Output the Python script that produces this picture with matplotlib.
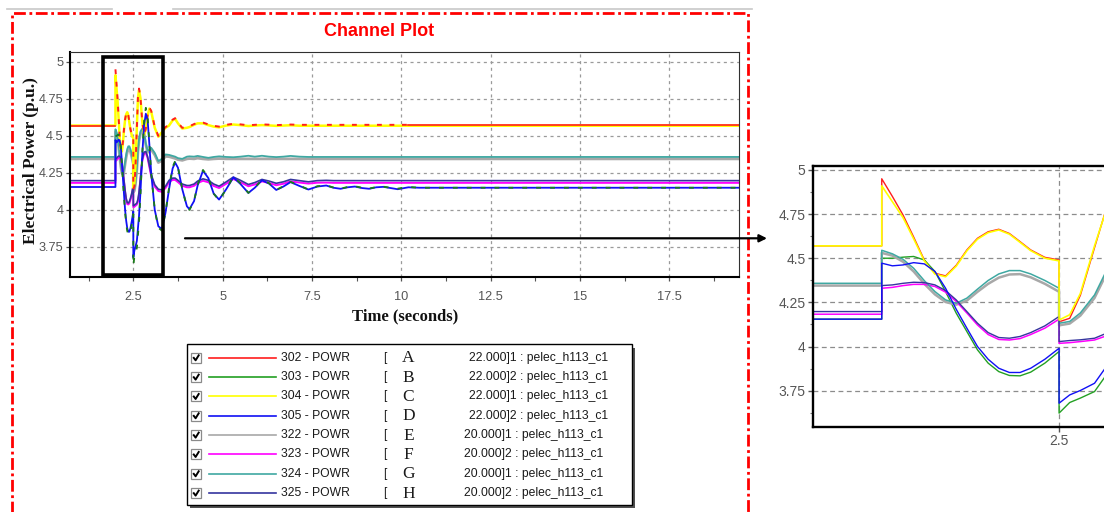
import matplotlib
matplotlib.use("Agg")
import matplotlib.pyplot as plt
from matplotlib.patches import Rectangle
from matplotlib.ticker import MultipleLocator, FixedLocator

plt.rcParams['lines.scale_dashes'] = False

# ---------------------------------------------------------------- data
# simulation time (s); repeated instants mark the fault (2.0 s) and clearing (2.5 s)
time_s = ([0.70, 2.00] +
          [2.00, 2.03, 2.06, 2.09, 2.12, 2.15, 2.18, 2.21, 2.24, 2.27, 2.30, 2.33, 2.36, 2.39, 2.42, 2.46, 2.50] +
          [2.50, 2.53, 2.56, 2.60, 2.63, 2.66, 2.70, 2.75, 2.80, 2.85, 2.90, 2.95, 3.00] +
          [3.10, 3.20, 3.30, 3.40, 3.50, 3.60, 3.67, 3.75, 3.87, 4.00, 4.07, 4.20, 4.30, 4.45, 4.60, 4.75, 4.90] +
          [5.10, 5.30, 5.50, 5.72, 5.90, 6.10, 6.30, 6.50, 6.70, 6.90, 7.15, 7.40, 7.65, 7.90] +
          [8.10, 8.30, 8.50, 8.70, 8.90, 9.10, 9.30, 9.50, 9.70, 9.90, 10.20, 10.50, 11.00, 19.50])

# electrical power (p.u.) per channel
pelec_302 = ([4.570, 4.570] +
             [4.950, 4.850, 4.745, 4.620, 4.490, 4.415, 4.400, 4.460, 4.547, 4.613, 4.650, 4.664, 4.640, 4.594, 4.547, 4.505, 4.490] +
             [4.140, 4.160, 4.290, 4.560, 4.760, 4.820, 4.760, 4.600, 4.510, 4.550, 4.640, 4.690, 4.670] +
             [4.560, 4.500, 4.530, 4.560, 4.575, 4.610, 4.620, 4.590, 4.555, 4.560, 4.565, 4.580, 4.590, 4.590, 4.578, 4.568, 4.563] +
             [4.575, 4.582, 4.578, 4.572, 4.575, 4.578, 4.576, 4.573, 4.575, 4.577, 4.575, 4.575, 4.575, 4.575] +
             [4.575] * 14)

pelec_303 = ([4.155, 4.155] +
             [4.500, 4.500, 4.506, 4.510, 4.490, 4.425, 4.311, 4.189, 4.085, 3.981, 3.906, 3.858, 3.836, 3.834, 3.855, 3.906, 3.972] +
             [3.623, 3.683, 3.708, 3.745, 3.830, 3.920, 4.100, 4.380, 4.600, 4.690, 4.630, 4.450, 4.250] +
             [4.000, 3.880, 3.860, 3.980, 4.150, 4.290, 4.330, 4.290, 4.140, 4.020, 4.000, 4.060, 4.170, 4.270, 4.220, 4.110, 4.065] +
             [4.140, 4.225, 4.180, 4.115, 4.150, 4.205, 4.180, 4.135, 4.160, 4.190, 4.165, 4.138, 4.160, 4.166] +
             [4.152, 4.144, 4.155, 4.160, 4.150, 4.144, 4.155, 4.157, 4.150, 4.144, 4.155, 4.150, 4.150, 4.150])

pelec_304 = ([4.570, 4.570] +
             [4.910, 4.820, 4.730, 4.610, 4.485, 4.410, 4.395, 4.455, 4.542, 4.608, 4.645, 4.660, 4.636, 4.590, 4.543, 4.500, 4.485] +
             [4.150, 4.180, 4.300, 4.570, 4.755, 4.810, 4.755, 4.595, 4.505, 4.545, 4.635, 4.685, 4.665] +
             [4.555, 4.495, 4.525, 4.555, 4.570, 4.605, 4.615, 4.585, 4.550, 4.555, 4.560, 4.575, 4.585, 4.585, 4.573, 4.563, 4.558] +
             [4.570, 4.577, 4.573, 4.567, 4.570, 4.573, 4.571, 4.568, 4.570, 4.572, 4.569, 4.569, 4.569, 4.569] +
             [4.569] * 14)

pelec_305 = ([4.155, 4.155] +
             [4.472, 4.457, 4.462, 4.475, 4.468, 4.425, 4.330, 4.211, 4.104, 4.000, 3.928, 3.877, 3.853, 3.853, 3.877, 3.928, 3.990] +
             [3.679, 3.726, 3.751, 3.792, 3.877, 3.960, 4.120, 4.370, 4.570, 4.650, 4.610, 4.440, 4.250] +
             [4.000, 3.890, 3.870, 3.980, 4.140, 4.280, 4.320, 4.285, 4.140, 4.025, 4.005, 4.060, 4.165, 4.265, 4.215, 4.110, 4.070] +
             [4.140, 4.220, 4.175, 4.115, 4.150, 4.200, 4.178, 4.135, 4.158, 4.188, 4.162, 4.138, 4.158, 4.165] +
             [4.150, 4.143, 4.153, 4.158, 4.148, 4.143, 4.153, 4.156, 4.148, 4.140, 4.153, 4.150, 4.150, 4.150])

pelec_322 = ([4.345, 4.345] +
             [4.530, 4.515, 4.480, 4.425, 4.355, 4.295, 4.252, 4.237, 4.260, 4.310, 4.355, 4.390, 4.408, 4.410, 4.392, 4.355, 4.310] +
             [4.120, 4.130, 4.175, 4.275, 4.398, 4.465, 4.515, 4.538, 4.508, 4.440, 4.390, 4.393, 4.408] +
             [4.372, 4.320, 4.333, 4.362, 4.360, 4.353, 4.348, 4.340, 4.335, 4.345, 4.347, 4.345, 4.350, 4.345, 4.342, 4.345, 4.347] +
             [4.345] * 14 +
             [4.345] * 14)

pelec_323 = ([4.183, 4.183] +
             [4.330, 4.335, 4.345, 4.352, 4.352, 4.340, 4.308, 4.255, 4.190, 4.122, 4.068, 4.040, 4.037, 4.045, 4.068, 4.104, 4.155] +
             [4.018, 4.022, 4.028, 4.037, 4.058, 4.105, 4.205, 4.328, 4.380, 4.385, 4.350, 4.290, 4.228] +
             [4.158, 4.128, 4.122, 4.148, 4.188, 4.203, 4.203, 4.188, 4.163, 4.153, 4.153, 4.163, 4.182, 4.197, 4.187, 4.162, 4.148] +
             [4.177, 4.209, 4.187, 4.160, 4.172, 4.193, 4.182, 4.167, 4.177, 4.193, 4.185, 4.178, 4.184, 4.185] +
             [4.183] * 14)

pelec_324 = ([4.358, 4.358] +
             [4.545, 4.525, 4.494, 4.443, 4.373, 4.311, 4.264, 4.245, 4.274, 4.325, 4.374, 4.411, 4.430, 4.430, 4.411, 4.374, 4.330] +
             [4.132, 4.142, 4.190, 4.292, 4.415, 4.480, 4.530, 4.550, 4.520, 4.450, 4.400, 4.405, 4.420] +
             [4.385, 4.330, 4.345, 4.375, 4.372, 4.365, 4.360, 4.350, 4.345, 4.360, 4.362, 4.360, 4.365, 4.358, 4.352, 4.358, 4.362] +
             [4.358, 4.356, 4.360, 4.366, 4.360, 4.366, 4.360, 4.357, 4.360, 4.365, 4.360, 4.358, 4.358, 4.358] +
             [4.358] * 14)

pelec_325 = ([4.198, 4.198] +
             [4.345, 4.349, 4.358, 4.364, 4.362, 4.349, 4.317, 4.264, 4.198, 4.132, 4.079, 4.051, 4.047, 4.057, 4.079, 4.117, 4.170] +
             [4.028, 4.034, 4.038, 4.047, 4.072, 4.120, 4.220, 4.340, 4.390, 4.395, 4.360, 4.300, 4.240] +
             [4.170, 4.140, 4.135, 4.160, 4.200, 4.215, 4.215, 4.200, 4.175, 4.165, 4.165, 4.175, 4.195, 4.210, 4.200, 4.175, 4.160] +
             [4.190, 4.222, 4.200, 4.172, 4.185, 4.206, 4.195, 4.180, 4.190, 4.206, 4.198, 4.190, 4.198, 4.200] +
             [4.198] * 14)

# legend text
bus_labels = ['302 - POWR', '303 - POWR', '304 - POWR', '305 - POWR',
              '322 - POWR', '323 - POWR', '324 - POWR', '325 - POWR']
unit_letters = ['A', 'B', 'C', 'D', 'E', 'F', 'G', 'H']
channel_tags = ['22.000]1 : pelec_h113_c1', '22.000]2 : pelec_h113_c1',
                '22.000]1 : pelec_h113_c1', '22.000]2 : pelec_h113_c1',
                '20.000]1 : pelec_h113_c1', '20.000]2 : pelec_h113_c1',
                '20.000]1 : pelec_h113_c1', '20.000]2 : pelec_h113_c1']

main_xticks = [2.5, 5, 7.5, 10, 12.5, 15, 17.5]
yticks = [3.75, 4, 4.25, 4.5, 4.75, 5]

# ---------------------------------------------------------------- styles
channel_values = [pelec_302, pelec_303, pelec_304, pelec_305,
                  pelec_322, pelec_323, pelec_324, pelec_325]
colors = ['#FF1E1E', '#23A023', '#FFFF00', '#1010F5',
          '#A8A8A8', '#FF00FF', '#3FA8A2', '#35359E']
widths_main = [1.2, 1.2, 1.8, 1.3, 2.0, 1.4, 1.3, 1.2]
widths_zoom = [1.0, 1.0, 1.2, 1.0, 1.8, 1.1, 1.1, 1.0]

W, H = 1104, 512
fig = plt.figure(figsize=(W / 100, H / 100), dpi=100)


def frac(x0, y0, x1, y1):
    return [x0 / W, 1 - y1 / H, (x1 - x0) / W, (y1 - y0) / H]


def span(lo, hi):
    """Index slice of samples with lo <= t <= hi (fault duplicates kept in order)."""
    idx = [k for k, t in enumerate(time_s) if lo <= t <= hi]
    return slice(idx[0], idx[-1] + 1)


sans = 'Liberation Sans'
serif = 'Liberation Serif'
tick_col = '#4A4A4A'

# ---------------------------------------------------------------- main channel plot
ax = fig.add_axes(frac(70, 51.7, 739.3, 277))
pre = slice(0, 2)
post = slice(2, len(time_s))
mid = span(2.0, 10.2)
tail = span(10.2, 20.0)

# paired traces overlap, so the upper one is drawn broken where they coincide
ax.plot(time_s, pelec_322, color=colors[4], lw=widths_main[4])
ax.plot(time_s, pelec_324, color=colors[6], lw=widths_main[6])
ax.plot(time_s, pelec_323, color=colors[5], lw=widths_main[5])
ax.plot(time_s, pelec_325, color=colors[7], lw=widths_main[7])
ax.plot(time_s, pelec_304, color=colors[2], lw=widths_main[2])
ax.plot(time_s[pre], pelec_302[pre], color=colors[0], lw=widths_main[0])
ax.plot(time_s[mid][1:], pelec_302[mid][1:], color=colors[0], lw=widths_main[0] + 0.2,
        linestyle=(0, (3.5, 5.5)))
ax.plot(time_s[tail], pelec_302[tail], color=colors[0], lw=widths_main[0])
ax.plot(time_s, pelec_305, color=colors[3], lw=widths_main[3])
ax.plot(time_s[post], pelec_303[post], color='#1A7A1A', lw=widths_main[1] + 0.1,
        linestyle=(0, (3.5, 6.5)))

ax.set_xlim(0.728, 19.46)
ax.set_ylim(3.547, 5.069)
ax.xaxis.set_major_locator(FixedLocator(main_xticks))
ax.xaxis.set_minor_locator(MultipleLocator(1.25))
ax.yaxis.set_major_locator(FixedLocator(yticks))
ax.set_xticklabels([f'{v:g}' for v in main_xticks], fontfamily=sans, fontsize=9.2, color=tick_col)
ax.set_yticklabels([f'{v:g}' for v in yticks], fontfamily=sans, fontsize=9.2, color=tick_col)
ax.tick_params(axis='both', which='major', direction='out', length=3, width=0.9, colors='#555555')
ax.tick_params(axis='x', which='major', pad=7)
ax.tick_params(axis='y', which='major', pad=1.5)
ax.tick_params(axis='x', which='minor', direction='out', length=3, width=0.8, colors='#555555')
ax.grid(True, which='major', color='#9A9A9A', lw=0.9, linestyle=(0, (2.2, 2.6)))
for side in ('left', 'bottom'):
    ax.spines[side].set_linewidth(1.5)
    ax.spines[side].set_color('black')
for side in ('top', 'right'):
    ax.spines[side].set_linewidth(0.8)
    ax.spines[side].set_color('#303030')

# ---------------------------------------------------------------- zoomed view of the fault window
axz = fig.add_axes(frac(813.3, 165.7, 1130, 426.7))
for i in [0, 1, 4, 5, 6, 7, 2, 3]:
    axz.plot(time_s, channel_values[i], color=colors[i], lw=widths_zoom[i])
axz.set_xlim(1.807, 2.70)
axz.set_ylim(3.546, 5.024)
axz.xaxis.set_major_locator(FixedLocator([2.5]))
axz.yaxis.set_major_locator(FixedLocator(yticks))
axz.yaxis.set_minor_locator(MultipleLocator(0.125))
axz.set_xticklabels(['2.5'], fontfamily=sans, fontsize=10, color='#303040')
axz.set_yticklabels([f'{v:g}' for v in yticks], fontfamily=sans, fontsize=10, color='#303040')
axz.tick_params(axis='both', which='major', direction='out', length=3.5, width=1, colors='#555555', pad=2)
axz.tick_params(axis='y', which='minor', direction='out', length=2, width=0.8, colors='#777777')
axz.grid(True, which='major', color='#8C8C8C', lw=0.9, linestyle=(0, (3.5, 2.5)))
for side in ('left', 'top', 'bottom'):
    axz.spines[side].set_linewidth(1.7)
    axz.spines[side].set_color('black')
axz.spines['right'].set_visible(False)

# ---------------------------------------------------------------- overlay in pixel units
ov = fig.add_axes([0, 0, 1, 1], zorder=5)
ov.set_xlim(0, W)
ov.set_ylim(H, 0)
ov.axis('off')
ov.patch.set_alpha(0)

# window frame strip and the red dash-dot panel border
ov.plot([7, 112], [9, 9], color='#C8C8C8', lw=1.2)
ov.plot([173, 752], [9, 9], color='#C8C8C8', lw=1.2)
ov.plot([11.7, 11.7, 747.7, 747.7], [530, 13.3, 13.3, 530], color='#FF0000', lw=2.0,
        linestyle=(0, (8.5, 2.6, 2.0, 2.6)))

ov.text(379, 31, 'Channel Plot', color='#FF0000', fontsize=13, fontweight='bold',
        fontfamily=sans, ha='center', va='center')
ov.text(31.5, 161, 'Electrical Power (p.u.)', fontsize=12.5, fontweight='bold',
        fontfamily=serif, rotation=90, ha='center', va='center', color='#111111')
ov.text(405, 316, 'Time (seconds)', fontsize=12, fontweight='bold',
        fontfamily=serif, ha='center', va='center', color='#111111')

# highlight box around the fault window and the pointer to the zoomed view
ov.add_patch(Rectangle((103.3, 56.7), 59.4, 218.3, fill=False, ec='black', lw=2.6))
ov.annotate('', xy=(767, 238.3), xytext=(185, 238.3),
            arrowprops=dict(arrowstyle='-|>', color='black', lw=1.6, mutation_scale=11,
                            shrinkA=0, shrinkB=0))

# legend panel
ov.add_patch(Rectangle((190, 347.5), 445, 160.5, fc='#505050', ec='none'))
ov.add_patch(Rectangle((186.7, 344.3), 445, 160.7, fc='white', ec='black', lw=1.0))
row0, dy = 357.7, 19.33
for k in range(len(bus_labels)):
    y = row0 + k * dy
    ov.add_patch(Rectangle((191, y - 5), 10, 10, fc='white', ec='#8A8A8A', lw=0.9))
    ov.plot([193.2, 195.6, 199.2], [y - 0.6, y + 2.6, y - 3.2], color='black', lw=1.4,
            solid_capstyle='butt')
    ov.plot([209.3, 276], [y, y], color=colors[k], lw=1.2)
    ov.text(280.7, y, bus_labels[k], fontsize=8.7, fontfamily=sans, ha='left', va='center',
            color='#1A1A1A')
    ov.text(383, y, '[', fontsize=8.7, fontfamily=sans, ha='left', va='center', color='#1A1A1A')
    ov.text(408.5, y + 0.5, unit_letters[k], fontsize=12.5, fontfamily=serif, ha='center',
            va='center', color='#1A1A1A')
    tag_x = 469.3 if channel_tags[k].startswith('22') else 464.0
    ov.text(tag_x, y, channel_tags[k], fontsize=8.7, fontfamily=sans, ha='left', va='center',
            color='#1A1A1A')

fig.savefig('out.png', dpi=100)
